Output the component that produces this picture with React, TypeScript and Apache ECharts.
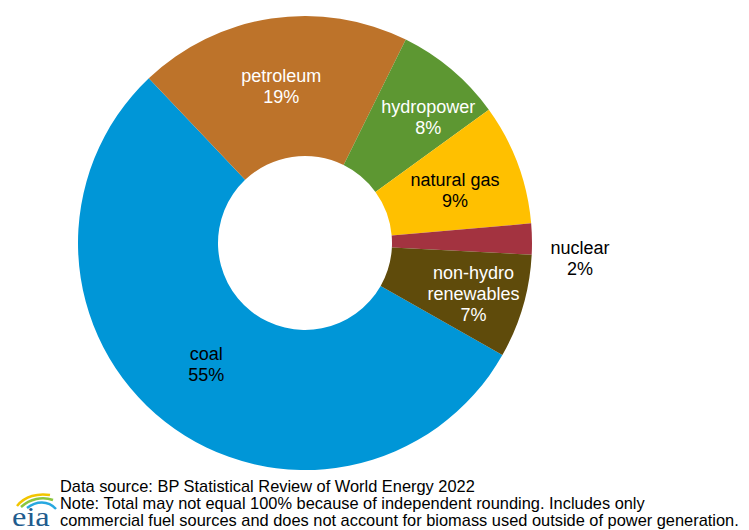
import React, { useEffect, useRef } from "react";
import * as echarts from "echarts";

const categories = ["coal", "petroleum", "hydropower", "natural gas", "nuclear", "non-hydro\nrenewables"];
const shares = [54.7, 19.4, 7.7, 8.6, 2.2, 7.4];
const colors = ["#0096D7", "#BD732A", "#5D9732", "#FFC000", "#A33340", "#5F4B0B"];
const labelColors = ["#000000", "#ffffff", "#ffffff", "#000000", "#000000", "#ffffff"];
const labelOffsets: number[][] = [[0, -4], [0, 2], [20, -3], [0, 3], [115, 18], [15, 6]];

const footnotes = [
  "Data source: BP Statistical Review of World Energy 2022",
  "Note: Total may not equal 100% because of independent rounding. Includes only",
  "commercial fuel sources and does not account for biomass used outside of power generation.",
];

export default function App() {
  const ref = useRef<HTMLDivElement>(null);
  useEffect(() => {
    document.body.style.margin = "0";
    const chart = echarts.init(ref.current!, null, { renderer: "svg" });
    const font = "'Liberation Sans', Arial, sans-serif";
    chart.setOption({
      animation: false,
      backgroundColor: "#ffffff",
      series: [
        {
          type: "pie",
          center: [305, 243],
          radius: [87, 227],
          startAngle: -29.6,
          clockwise: true,
          avoidLabelOverlap: false,
          emphasis: { disabled: true },
          label: {
            show: true,
            position: "inside",
            fontFamily: font,
            fontSize: 18,
            lineHeight: 21,
            formatter: (p: any) => `${p.name}\n${Math.round(p.value)}%`,
          },
          labelLine: { show: false },
          data: categories.map((c, i) => ({
            name: c,
            value: shares[i],
            itemStyle: { color: colors[i] },
            label: { color: labelColors[i], offset: labelOffsets[i] },
          })),
        },
      ],
      graphic: [
        {
          type: "text",
          left: 60,
          top: 477,
          style: {
            text: footnotes.join("\n"),
            fontFamily: font,
            fontSize: 16.4,
            lineHeight: 17,
            fill: "#000",
          },
        },
        {
          type: "bezierCurve",
          shape: { x1: 17, y1: 506, cpx1: 25, cpy1: 496, cpx2: 38, cpy2: 493, x2: 50, y2: 495 },
          style: { stroke: "#F2C500", lineWidth: 2.5, fill: null },
        },
        {
          type: "bezierCurve",
          shape: { x1: 21, y1: 507, cpx1: 30, cpy1: 499, cpx2: 42, cpy2: 496, x2: 53, y2: 500 },
          style: { stroke: "#8CC63F", lineWidth: 2.5, fill: null },
        },
        {
          type: "bezierCurve",
          shape: { x1: 27, y1: 508, cpx1: 36, cpy1: 501, cpx2: 48, cpy2: 500, x2: 56, y2: 509 },
          style: { stroke: "#27A8E0", lineWidth: 2.5, fill: null },
        },
        {
          type: "text",
          x: 12,
          y: 530,
          scaleX: 1.2,
          style: {
            text: "eia",
            fontFamily: "'Liberation Serif', 'DejaVu Serif', serif",
            fontSize: 27,
            fill: "#1F5C8E",
            verticalAlign: "bottom",
          },
        },
      ],
    });
    return () => chart.dispose();
  }, []);
  return <div ref={ref} style={{ width: 749, height: 530 }} />;
}
